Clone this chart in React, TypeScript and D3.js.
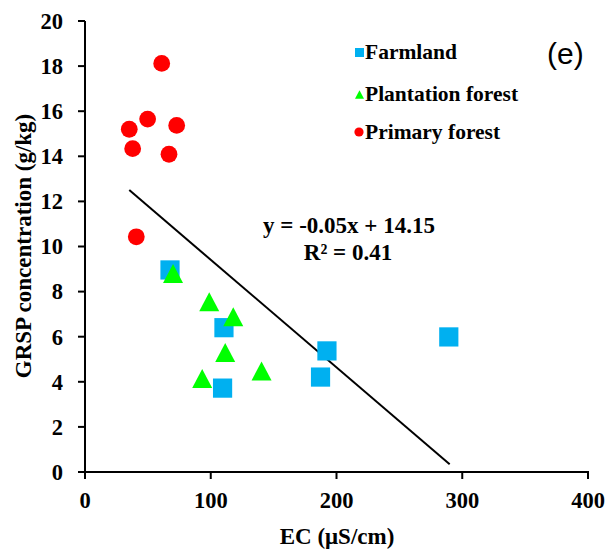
import React from "react";
import * as d3 from "d3";

const farmlandEC = [67.6, 110.5, 109.4, 192.4, 187.3, 289.3];
const farmlandGRSP = [8.96, 6.4, 3.72, 5.37, 4.21, 5.99];

const plantationEC = [70, 98.8, 117.9, 111.5, 93.2, 140.4];
const plantationGRSP = [8.8, 7.55, 6.88, 5.3, 4.15, 4.48];

const primaryEC = [61, 49.8, 35.2, 72.9, 37.9, 66.8, 40.8];
const primaryGRSP = [18.12, 15.65, 15.2, 15.37, 14.34, 14.09, 10.43];

const xTicks = [0, 100, 200, 300, 400];
const yTicks = [0, 2, 4, 6, 8, 10, 12, 14, 16, 18, 20];

const trendX = [35.2, 290];
const trendSlope = -0.0477;
const trendIntercept = 14.18;

const legendLabels = ["Farmland", "Plantation forest", "Primary forest"];
const equationText = "y = -0.05x + 14.15";
const r2Text = "R² = 0.41";
const panelLabel = "(e)";
const xTitle = "EC (μS/cm)";
const yTitle = "GRSP concentration (g/kg)";

const BLUE = "#00B0F0";
const GREEN = "#00FF00";
const RED = "#FF0000";
const FONT = "'Liberation Serif', 'Times New Roman', serif";

export default function App() {
  const W = 605;
  const H = 553;
  const x = d3.scaleLinear().domain([0, 400]).range([85, 588]);
  const y = d3.scaleLinear().domain([0, 20]).range([472, 21]);

  const line = d3
    .line<number>()
    .x((d) => x(d))
    .y((d) => y(trendSlope * d + trendIntercept));

  const tri = (s: number) => `M0,${-s * 0.95}L${s},${s * 0.95}L${-s},${s * 0.95}Z`;

  const legendY = [59, 101, 139];

  return (
    <svg
      width={W}
      height={H}
      style={{ position: "absolute", left: 0, top: 0, background: "#fff" }}
      fontFamily={FONT}
    >
      <rect x={0} y={0} width={W} height={H} fill="#fff" />
      {/* axes */}
      <line x1={x(0)} x2={x(0)} y1={y(0) + 1} y2={y(20)} stroke="#000" strokeWidth={2} />
      <line x1={x(0) - 1} x2={x(400) + 1} y1={y(0)} y2={y(0)} stroke="#000" strokeWidth={2} />
      {yTicks.map((t) => (
        <g key={"y" + t}>
          <line x1={x(0) - 7} x2={x(0)} y1={y(t)} y2={y(t)} stroke="#000" strokeWidth={2} />
          <text
            x={63}
            y={y(t)}
            dy="0.35em"
            textAnchor="end"
            fontSize={22.5}
            fontWeight="bold"
          >
            {t}
          </text>
        </g>
      ))}
      {xTicks.map((t) => (
        <g key={"x" + t}>
          <line x1={x(t)} x2={x(t)} y1={y(0)} y2={y(0) + 7} stroke="#000" strokeWidth={2} />
          <text x={x(t)} y={508} textAnchor="middle" fontSize={22.5} fontWeight="bold">
            {t}
          </text>
        </g>
      ))}
      <text x={337} y={544} textAnchor="middle" fontSize={23} fontWeight="bold">
        {xTitle}
      </text>
      <text
        transform={`translate(31,246) rotate(-90)`}
        textAnchor="middle"
        fontSize={23}
        fontWeight="bold"
      >
        {yTitle}
      </text>

      {/* trend line */}
      <path d={line(trendX) || ""} stroke="#000" strokeWidth={2} fill="none" />

      {/* points */}
      {primaryEC.map((v, i) => (
        <circle key={"p" + i} cx={x(v)} cy={y(primaryGRSP[i])} r={8.4} fill={RED} />
      ))}
      {farmlandEC.map((v, i) => (
        <rect
          key={"f" + i}
          x={x(v) - 9.6}
          y={y(farmlandGRSP[i]) - 9.6}
          width={19.2}
          height={19.2}
          fill={BLUE}
        />
      ))}
      {plantationEC.map((v, i) => (
        <path
          key={"t" + i}
          d={tri(10)}
          transform={`translate(${x(v)},${y(plantationGRSP[i])})`}
          fill={GREEN}
        />
      ))}

      {/* equation */}
      <text x={349} y={233} textAnchor="middle" fontSize={23} fontWeight="bold">
        {equationText}
      </text>
      <text x={348} y={260} textAnchor="middle" fontSize={23} fontWeight="bold">
        {r2Text}
      </text>

      {/* legend */}
      <rect x={355} y={legendY[0] - 11} width={9} height={9} fill={BLUE} />
      <path d={tri(4.5)} transform={`translate(359.5,${legendY[1] - 6.5})`} fill={GREEN} />
      <circle cx={359} cy={legendY[2] - 7} r={4.6} fill={RED} />
      {legendLabels.map((l, i) => (
        <text key={l} x={365} y={legendY[i]} fontSize={21.5} fontWeight="bold">
          {l}
        </text>
      ))}
      <text
        x={547}
        y={64}
        fontSize={30}
        fontFamily="'Liberation Sans', Arial, sans-serif"
      >
        {panelLabel}
      </text>
    </svg>
  );
}
